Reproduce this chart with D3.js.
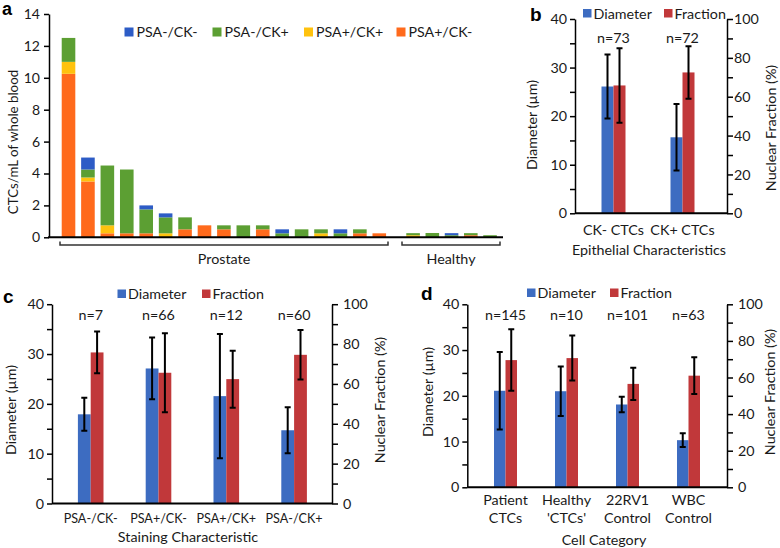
<!DOCTYPE html>
<html><head><meta charset="utf-8">
<script src="https://cdn.jsdelivr.net/npm/d3@7"></script>
<style>
body{margin:0;background:#fff;}
svg{display:block;font-family:Lato,"Open Sans",sans-serif;}
</style></head><body>
<svg id="chart" width="780" height="548"></svg>
<script>
// ---------------- Panel a data ----------------
const aProstate = ["P1","P2","P3","P4","P5","P6","P7","P8","P9","P10","P11","P12","P13","P14","P15","P16","P17"];
const aHealthy = ["H1","H2","H3","H4","H5"];
const aSeries = ["PSA+/CK-","PSA+/CK+","PSA-/CK+","PSA-/CK-"]; // stack bottom -> top
const aLegendOrder = ["PSA-/CK-","PSA-/CK+","PSA+/CK+","PSA+/CK-"];
const aPSApCKm = [10.25,3.5,0.25,0.25,0.25,0,0.5,0.75,0.5,0,0.5,0,0,0,0,0.25,0.25, 0,0,0,0.13,0];
const aPSApCKp = [0.75,0.25,0.5,0,0,0.25,0,0,0,0,0,0,0,0.25,0,0,0, 0.13,0,0,0,0];
const aPSAmCKp = [1.5,0.5,3.75,4.0,1.5,1.0,0.75,0,0.25,0.75,0.25,0.25,0.5,0.25,0.25,0.25,0, 0.13,0.27,0.13,0.13,0.13];
const aPSAmCKm = [0,0.75,0,0,0.25,0.25,0,0,0,0,0,0.25,0,0,0.25,0,0, 0,0,0.13,0,0];
const aYTicks = [0,2,4,6,8,10,12,14];
const aGroupLabels = ["Prostate","Healthy"];
const aYTitle = "CTCs/mL of whole blood";

// ---------------- Panel b data ----------------
const bCats = ["CK- CTCs","CK+ CTCs"];
const bDiam = [26.1, 15.65];
const bDiamErr = [6.6, 6.85];
const bFrac = [65.8, 72.5];
const bFracErr = [19.2, 13.5];
const bN = ["n=73","n=72"];
const bXTitle = "Epithelial Characteristics";

// ---------------- Panel c data ----------------
const cCats = ["PSA-/CK-","PSA+/CK-","PSA+/CK+","PSA-/CK+"];
const cDiam = [17.9, 27.1, 21.55, 14.7];
const cDiamErr = [3.3, 6.2, 12.45, 4.6];
const cFrac = [75.8, 65.6, 62.4, 74.6];
const cFracErr = [10.5, 19.8, 14.3, 12.4];
const cN = ["n=7","n=66","n=12","n=60"];
const cXTitle = "Staining Characteristic";

// ---------------- Panel d data ----------------
const dCats = ["Patient CTCs","Healthy 'CTCs'","22RV1 Control","WBC Control"];
const dDiam = [21.1, 21.0, 18.1, 10.3];
const dDiamErr = [8.45, 5.4, 1.7, 1.5];
const dFrac = [69.5, 70.6, 56.5, 61.0];
const dFracErr = [16.8, 12.3, 8.8, 10.0];
const dN = ["n=145","n=10","n=101","n=63"];
const dXTitle = "Cell Category";

const bdSeries = ["Diameter","Fraction"];
const bdLeftTicks = [0,5,10,15,20,25,30,35,40];
const bdRightTicks = [0,10,20,30,40,50,60,70,80,90,100];
const bdLeftTitle = "Diameter (\u00b5m)";
const bdRightTitle = "Nuclear Fraction (%)";

// ---------------- styles ----------------
const colA = {"PSA-/CK-":"#2D5CC6","PSA-/CK+":"#5C9F33","PSA+/CK+":"#FFC20E","PSA+/CK-":"#FF6A1C"};
const colBD = {"Diameter":"#3D6CC1","Fraction":"#C1383A"};
const TXT = "#1a1a1a";
const FS = 14.3;

const svg = d3.select("#chart");

// ================= Panel a =================
(function(){
  const g = svg.append("g");
  const yA = d3.scaleLinear().domain([0,14]).range([237.3,14]);
  const xP = d3.scaleBand().domain(aProstate).range([58.8,389]).paddingInner(0.3).paddingOuter(0.15);
  const xH = d3.scaleBand().domain(aHealthy).range([403.4,499.6]).paddingInner(0.3).paddingOuter(0.15);
  const ids = aProstate.concat(aHealthy);
  const xA = id => (id[0]==="P" ? xP(id) : xH(id));
  const bw = xP.bandwidth();
  const rows = ids.map((id,i)=>({id,
    "PSA+/CK-":aPSApCKm[i],"PSA+/CK+":aPSApCKp[i],"PSA-/CK+":aPSAmCKp[i],"PSA-/CK-":aPSAmCKm[i]}));
  const stacked = d3.stack().keys(aSeries)(rows);
  stacked.forEach(layer=>{
    g.append("g").attr("fill",colA[layer.key])
      .selectAll("rect").data(layer.filter(d=>d[1]-d[0]>0)).join("rect")
      .attr("x",d=>xA(d.data.id)).attr("width",bw)
      .attr("y",d=>yA(d[1])).attr("height",d=>yA(d[0])-yA(d[1]));
  });
  // y axis
  const ax = g.append("g").attr("transform","translate(49,0)")
    .call(d3.axisLeft(yA).tickValues(aYTicks).tickSize(5).tickSizeOuter(0).tickPadding(4));
  ax.selectAll("path,line").attr("stroke","#000").attr("stroke-width",1.5);
  ax.selectAll("text").attr("font-size",14).attr("fill",TXT).attr("font-family","Lato,sans-serif");
  // x axis line
  g.append("line").attr("x1",48).attr("x2",503).attr("y1",yA(0)).attr("y2",yA(0))
    .attr("stroke","#000").attr("stroke-width",2);
  // brackets
  const brk = [[60,388],[402,500]];
  brk.forEach((b,i)=>{
    g.append("path").attr("d",`M${b[0]},241.5V245H${b[1]}V241.5`).attr("fill","none")
      .attr("stroke","#333").attr("stroke-width",1.5);
    g.append("text").attr("x",(b[0]+b[1])/2).attr("y",264).attr("text-anchor","middle")
      .attr("font-size",FS).attr("fill",TXT).text(aGroupLabels[i]);
  });
  // y title
  g.append("text").attr("transform","translate(18,142) rotate(-90)").attr("text-anchor","middle")
    .attr("font-size",13.3).attr("fill",TXT).text(aYTitle);
  // legend
  const lx = [124.5,212.5,304,396.5];
  aLegendOrder.forEach((k,i)=>{
    g.append("rect").attr("x",lx[i]).attr("y",27.5).attr("width",9).attr("height",9).attr("fill",colA[k]);
    g.append("text").attr("x",lx[i]+12).attr("y",37).attr("font-size",14.2).attr("fill",TXT).text(k);
  });
  // panel letter
  g.append("text").attr("x",2).attr("y",15).attr("font-family","'Liberation Sans',Arial,sans-serif")
    .attr("font-weight","bold").attr("font-size",18).text("a");
})();

// ================= Panels b, c, d =================
function drawPanel(p){
  const g = svg.append("g");
  const yL = d3.scaleLinear().domain([0,40]).range([p.yBase,p.yTop]);
  const yR = d3.scaleLinear().domain([0,100]).range([p.yBase,p.yTop]);
  const x = d3.scaleBand().domain(p.cats).range(p.xRange);
  const xs = d3.scaleBand().domain(bdSeries).range([-p.bw,p.bw]);
  const rows = [];
  p.cats.forEach((c,i)=>{
    rows.push({cat:c,s:"Diameter",v:p.diam[i],e:p.diamErr[i],y:yL});
    rows.push({cat:c,s:"Fraction",v:p.frac[i],e:p.fracErr[i],y:yR});
  });
  const cx = d=>x(d.cat)+x.bandwidth()/2;
  g.selectAll("rect.bar").data(rows).join("rect").attr("class","bar")
    .attr("x",d=>cx(d)+xs(d.s)).attr("width",xs.bandwidth())
    .attr("y",d=>d.y(d.v)).attr("height",d=>p.yBase-d.y(d.v)).attr("fill",d=>colBD[d.s]);
  // error bars
  const eg = g.append("g").attr("stroke","#000").attr("stroke-width",2).attr("fill","none");
  rows.forEach(d=>{
    const xm = cx(d)+xs(d.s)+xs.bandwidth()/2;
    const yt = d.y(d.v+d.e), yb = d.y(d.v-d.e);
    eg.append("path").attr("d",`M${xm},${yt}V${yb}M${xm-3},${yt}H${xm+3}M${xm-3},${yb}H${xm+3}`);
  });
  // axes
  const al = g.append("g").attr("transform",`translate(${p.xL},0)`)
    .call(d3.axisLeft(yL).tickValues(bdLeftTicks).tickFormat(d=>d%10?"":d).tickSize(5).tickSizeOuter(0).tickPadding(3));
  const ar = g.append("g").attr("transform",`translate(${p.xR},0)`)
    .call(d3.axisRight(yR).tickValues(bdRightTicks).tickFormat(d=>d%20?"":d).tickSize(6).tickSizeOuter(0).tickPadding(p.rPad));
  [al,ar].forEach(a=>{
    a.selectAll("path,line").attr("stroke","#000").attr("stroke-width",1.5);
    a.selectAll("text").attr("font-size",FS).attr("fill",TXT).attr("font-family","Lato,sans-serif");
  });
  g.append("line").attr("x1",p.xL).attr("x2",p.xR).attr("y1",p.yBase).attr("y2",p.yBase)
    .attr("stroke","#000").attr("stroke-width",2);
  // n labels and category labels
  p.cats.forEach((c,i)=>{
    g.append("text").attr("x",x(c)+x.bandwidth()/2).attr("y",p.nY).attr("text-anchor","middle")
      .attr("font-size",FS).attr("fill",TXT).text(p.n[i]);
    const lines = p.twoLine ? c.split(" ") : [c];
    const t = g.append("text").attr("x",x(c)+x.bandwidth()/2).attr("y",p.catY).attr("text-anchor","middle")
      .attr("font-size",p.catFS).attr("fill",TXT);
    lines.forEach((ln,j)=>t.append("tspan").attr("x",x(c)+x.bandwidth()/2).attr("dy",j?18:0).text(ln));
  });
  // titles
  g.append("text").attr("x",p.xTitle[0]).attr("y",p.xTitle[1]).attr("text-anchor","middle")
    .attr("font-size",FS).attr("fill",TXT).text(p.xTitleText);
  g.append("text").attr("transform",`translate(${p.lTitle[0]},${p.lTitle[1]}) rotate(-90)`).attr("text-anchor","middle")
    .attr("font-size",FS).attr("fill",TXT).text(bdLeftTitle);
  g.append("text").attr("transform",`translate(${p.rTitle[0]},${p.rTitle[1]}) rotate(-90)`).attr("text-anchor","middle")
    .attr("font-size",FS).attr("fill",TXT).text(bdRightTitle);
  // legend
  bdSeries.forEach((s,i)=>{
    g.append("rect").attr("x",p.legX[i]).attr("y",p.legY-4.5).attr("width",8.5).attr("height",8.5).attr("fill",colBD[s]);
    g.append("text").attr("x",p.legX[i]+10.5).attr("y",p.legY+5).attr("font-size",FS).attr("fill",TXT).text(s);
  });
  // panel letter
  g.append("text").attr("x",p.letterPos[0]).attr("y",p.letterPos[1]).attr("font-family","'Liberation Sans',Arial,sans-serif")
    .attr("font-weight","bold").attr("font-size",19).text(p.letter);
}

drawPanel({cats:bCats,diam:bDiam,diamErr:bDiamErr,frac:bFrac,fracErr:bFracErr,n:bN,xTitleText:bXTitle,
  yBase:213.3,yTop:19,xL:575,xR:727,xRange:[579,717],bw:12,rPad:1,catFS:FS,
  nY:43,catY:235,xTitle:[649,255],lTitle:[537,125],rTitle:[776,128],
  legX:[583,664],legY:13.5,letter:"b",letterPos:[530,21],twoLine:false});
drawPanel({cats:cCats,diam:cDiam,diamErr:cDiamErr,frac:cFrac,fracErr:cFracErr,n:cN,xTitleText:cXTitle,
  yBase:503.5,yTop:304.2,xL:52,xR:332,xRange:[56.8,328],bw:12.8,rPad:5,catFS:12.6,
  nY:320,catY:523,xTitle:[188,542],lTitle:[16,410],rTitle:[385,400],
  legX:[117.5,202],legY:294,letter:"c",letterPos:[3,303],twoLine:false});
drawPanel({cats:dCats,diam:dDiam,diamErr:dDiamErr,frac:dFrac,fracErr:dFracErr,n:dN,xTitleText:dXTitle,
  yBase:487.3,yTop:304.3,xL:467.3,xR:727,xRange:[475,719],bw:11.5,rPad:5,catFS:FS,
  nY:320,catY:505,xTitle:[604,545],lTitle:[433,392],rTitle:[775,392],
  legX:[527,610],legY:293,letter:"d",letterPos:[421,300],twoLine:true});
</script>
</body></html>
